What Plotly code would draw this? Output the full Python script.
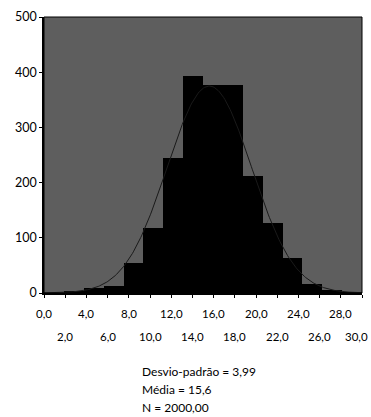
import numpy as np
import plotly.graph_objects as go

# ---- data ----
bin_start = 0.0
bin_end = 30.0
counts = [0, 2, 9, 13, 54, 118, 245, 394, 377, 377, 212, 127, 63, 16, 5, 1]
x_ticks = [0, 2, 4, 6, 8, 10, 12, 14, 16, 18, 20, 22, 24, 26, 28, 30]
x_tick_labels = ["0,0", "2,0", "4,0", "6,0", "8,0", "10,0", "12,0", "14,0",
                 "16,0", "18,0", "20,0", "22,0", "24,0", "26,0", "28,0", "30,0"]
y_ticks = [0, 100, 200, 300, 400, 500]
std_dev = 3.99
mean = 15.6
n_total = 2000
stats_lines = ["Desvio-padrão = 3,99", "Média = 15,6", "N = 2000,00"]

# ---- derived ----
n_bins = len(counts)
bin_size = (bin_end - bin_start) / n_bins
centers = [bin_start + (i + 0.5) * bin_size for i in range(n_bins)]

xs = np.linspace(bin_start, bin_end, 300)
curve = n_total * bin_size / (std_dev * np.sqrt(2 * np.pi)) * np.exp(-0.5 * ((xs - mean) / std_dev) ** 2)

FONT = "Lato"

fig = go.Figure()
fig.add_trace(go.Bar(x=centers, y=counts, width=bin_size,
                     marker=dict(color="black", line=dict(width=0)),
                     showlegend=False, hoverinfo="skip"))
fig.add_trace(go.Scatter(x=xs, y=curve, mode="lines",
                         line=dict(color="#1a1a1a", width=1),
                         showlegend=False, hoverinfo="skip"))

annotations = []
last = len(x_ticks) - 1
for i, (v, t) in enumerate(zip(x_ticks, x_tick_labels)):
    annotations.append(dict(x=v, xref="x", y=0, yref="paper", text=t,
                            showarrow=False,
                            xanchor="right" if i == last else "center",
                            xshift=8 if i == last else 0,
                            yanchor="middle",
                            yshift=-20 if i % 2 == 0 else -43,
                            font=dict(family=FONT, size=11.5, color="black")))
for j, line in enumerate(stats_lines):
    annotations.append(dict(x=(140 - 44) / 318, xref="paper", y=0, yref="paper",
                            text=line, showarrow=False, xanchor="left", yanchor="middle",
                            yshift=-(78 + 18 * j),
                            font=dict(family=FONT, size=12, color="black")))

fig.update_layout(
    width=371, height=417,
    margin=dict(l=44, r=9, t=14, b=124),
    paper_bgcolor="white",
    plot_bgcolor="#5e5e5e",
    bargap=0,
    annotations=annotations,
    xaxis=dict(range=[bin_start, bin_end], tickvals=x_ticks, showticklabels=False,
               ticks="outside", ticklen=3, tickcolor="black", tickwidth=1,
               showgrid=False, zeroline=False,
               showline=True, linecolor="black", linewidth=2, mirror=False),
    yaxis=dict(range=[0, 500], tickvals=y_ticks, ticks="outside", ticklen=3,
               tickcolor="black", showgrid=False, zeroline=False,
               showline=True, linecolor="black", linewidth=1.5, mirror=False,
               tickfont=dict(family=FONT, size=12.5, color="black")),
    shapes=[dict(type="rect", xref="paper", yref="paper", x0=0, y0=0, x1=1, y1=1,
                 line=dict(color="black", width=1), fillcolor="rgba(0,0,0,0)")],
)

fig.write_html("out.html")
